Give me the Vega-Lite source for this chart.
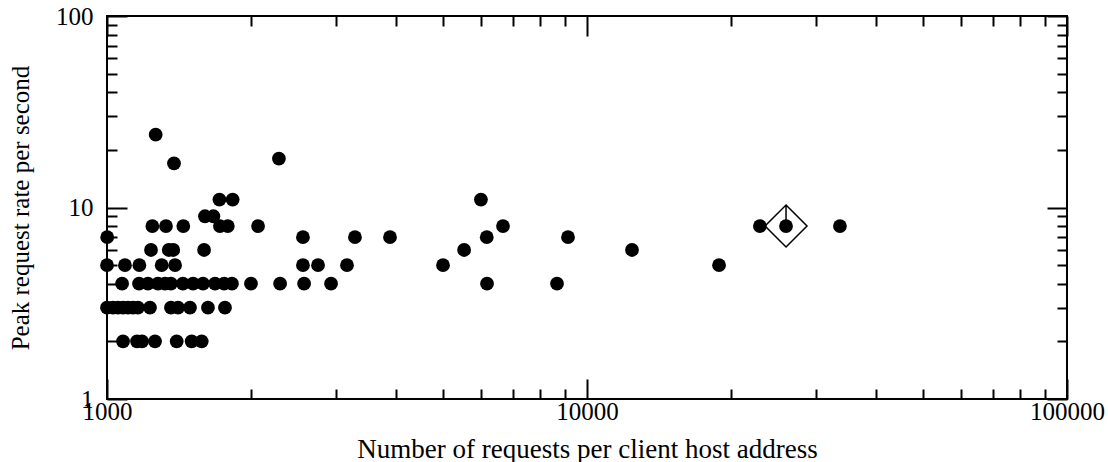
{
  "$schema": "https://vega.github.io/schema/vega-lite/v6.json",
  "width": 960,
  "height": 383,
  "autosize": "none",
  "padding": {"left": 107, "top": 16, "right": 41, "bottom": 63},
  "background": "white",
  "config": {
    "view": {"stroke": "black", "strokeWidth": 2},
    "axis": {
      "labelFont": "Liberation Serif",
      "titleFont": "Liberation Serif",
      "labelFontSize": 25,
      "titleFontSize": 26,
      "titleFontWeight": "normal",
      "labelColor": "black",
      "titleColor": "black",
      "domain": false,
      "grid": false,
      "tickColor": "black",
      "tickWidth": 2,
      "labelOverlap": false,
      "labelFlush": false
    }
  },
  "datasets": {
    "pts": [
      {"requests": 1263, "rate": 24},
      {"requests": 2281, "rate": 18},
      {"requests": 1379, "rate": 17},
      {"requests": 1715, "rate": 11},
      {"requests": 1827, "rate": 11},
      {"requests": 6012, "rate": 11},
      {"requests": 1600, "rate": 9},
      {"requests": 1666, "rate": 9},
      {"requests": 1243, "rate": 8},
      {"requests": 1327, "rate": 8},
      {"requests": 1442, "rate": 8},
      {"requests": 1719, "rate": 8},
      {"requests": 1785, "rate": 8},
      {"requests": 2064, "rate": 8},
      {"requests": 6683, "rate": 8},
      {"requests": 22920, "rate": 8},
      {"requests": 25980, "rate": 8},
      {"requests": 33650, "rate": 8},
      {"requests": 1001, "rate": 7},
      {"requests": 2560, "rate": 7},
      {"requests": 3285, "rate": 7},
      {"requests": 3887, "rate": 7},
      {"requests": 6182, "rate": 7},
      {"requests": 9129, "rate": 7},
      {"requests": 1235, "rate": 6},
      {"requests": 1345, "rate": 6},
      {"requests": 1374, "rate": 6},
      {"requests": 1593, "rate": 6},
      {"requests": 5546, "rate": 6},
      {"requests": 12410, "rate": 6},
      {"requests": 1000, "rate": 5},
      {"requests": 1090, "rate": 5},
      {"requests": 1168, "rate": 5},
      {"requests": 1300, "rate": 5},
      {"requests": 1386, "rate": 5},
      {"requests": 2560, "rate": 5},
      {"requests": 2752, "rate": 5},
      {"requests": 3162, "rate": 5},
      {"requests": 5012, "rate": 5},
      {"requests": 18840, "rate": 5},
      {"requests": 1075, "rate": 4},
      {"requests": 1166, "rate": 4},
      {"requests": 1217, "rate": 4},
      {"requests": 1277, "rate": 4},
      {"requests": 1321, "rate": 4},
      {"requests": 1359, "rate": 4},
      {"requests": 1439, "rate": 4},
      {"requests": 1511, "rate": 4},
      {"requests": 1585, "rate": 4},
      {"requests": 1679, "rate": 4},
      {"requests": 1754, "rate": 4},
      {"requests": 1821, "rate": 4},
      {"requests": 1995, "rate": 4},
      {"requests": 2294, "rate": 4},
      {"requests": 2574, "rate": 4},
      {"requests": 2929, "rate": 4},
      {"requests": 6190, "rate": 4},
      {"requests": 8660, "rate": 4},
      {"requests": 1000, "rate": 3},
      {"requests": 1029, "rate": 3},
      {"requests": 1054, "rate": 3},
      {"requests": 1080, "rate": 3},
      {"requests": 1106, "rate": 3},
      {"requests": 1133, "rate": 3},
      {"requests": 1160, "rate": 3},
      {"requests": 1229, "rate": 3},
      {"requests": 1359, "rate": 3},
      {"requests": 1406, "rate": 3},
      {"requests": 1489, "rate": 3},
      {"requests": 1623, "rate": 3},
      {"requests": 1761, "rate": 3},
      {"requests": 1080, "rate": 2},
      {"requests": 1155, "rate": 2},
      {"requests": 1183, "rate": 2},
      {"requests": 1259, "rate": 2},
      {"requests": 1397, "rate": 2},
      {"requests": 1501, "rate": 2},
      {"requests": 1575, "rate": 2}
    ],
    "highlight": [{"requests": 25980, "rate": 8}]
  },
  "layer": [
    {
      "data": {"name": "pts"},
      "mark": {"type": "circle", "size": 190, "color": "black", "opacity": 1},
      "encoding": {
        "x": {
          "field": "requests", "type": "quantitative",
          "scale": {"type": "log", "domain": [1000, 100000], "nice": false},
          "axis": {
            "orient": "bottom",
            "title": "Number of requests per client host address",
            "titleFontSize": 27,
            "values": [1000, 2000, 3000, 4000, 5000, 6000, 7000, 8000, 9000, 10000, 20000, 30000, 40000, 50000, 60000, 70000, 80000, 90000, 100000],
            "labelExpr": "indexof([1000, 10000, 100000], datum.value) >= 0 ? format(datum.value, 'd') : ''",
            "tickSize": {"condition": {"test": "indexof([1000, 10000, 100000], datum.value) >= 0", "value": -20}, "value": -10},
            "labelPadding": 20,
            "titlePadding": 2
          }
        },
        "y": {
          "field": "rate", "type": "quantitative",
          "scale": {"type": "log", "domain": [1, 100], "nice": false},
          "axis": {
            "orient": "left",
            "title": "Peak request rate per second",
            "titleFontSize": 25,
            "values": [1, 2, 3, 4, 5, 6, 7, 8, 9, 10, 20, 30, 40, 50, 60, 70, 80, 90, 100],
            "labelExpr": "indexof([1, 10, 100], datum.value) >= 0 ? format(datum.value, 'd') : ''",
            "tickSize": {"condition": {"test": "indexof([1, 10, 100], datum.value) >= 0", "value": -20}, "value": -10},
            "labelPadding": 34,
            "titlePadding": 22
          }
        }
      }
    },
    {
      "data": {"name": "pts"},
      "mark": {"type": "circle", "opacity": 0},
      "encoding": {
        "x": {
          "field": "requests", "type": "quantitative",
          "scale": {"type": "log", "domain": [1000, 100000], "nice": false},
          "axis": {
            "orient": "top",
            "title": null,
            "labels": false,
            "values": [1000, 2000, 3000, 4000, 5000, 6000, 7000, 8000, 9000, 10000, 20000, 30000, 40000, 50000, 60000, 70000, 80000, 90000, 100000],
            "tickSize": {"condition": {"test": "indexof([1000, 10000, 100000], datum.value) >= 0", "value": -20}, "value": -10}
          }
        },
        "y": {
          "field": "rate", "type": "quantitative",
          "scale": {"type": "log", "domain": [1, 100], "nice": false},
          "axis": {
            "orient": "right",
            "title": null,
            "labels": false,
            "values": [1, 2, 3, 4, 5, 6, 7, 8, 9, 10, 20, 30, 40, 50, 60, 70, 80, 90, 100],
            "tickSize": {"condition": {"test": "indexof([1, 10, 100], datum.value) >= 0", "value": -20}, "value": -10}
          }
        }
      }
    },
    {
      "data": {"name": "highlight"},
      "mark": {"type": "point", "shape": "M0,-1L1,0L0,1L-1,0ZM0,-1L0,0", "size": 1764, "filled": false, "stroke": "black", "strokeWidth": 1.5, "opacity": 1},
      "encoding": {
        "x": {"field": "requests", "type": "quantitative", "scale": {"type": "log", "domain": [1000, 100000], "nice": false}, "axis": null},
        "y": {"field": "rate", "type": "quantitative", "scale": {"type": "log", "domain": [1, 100], "nice": false}, "axis": null}
      }
    }
  ],
  "resolve": {"axis": {"x": "independent", "y": "independent"}}
}
